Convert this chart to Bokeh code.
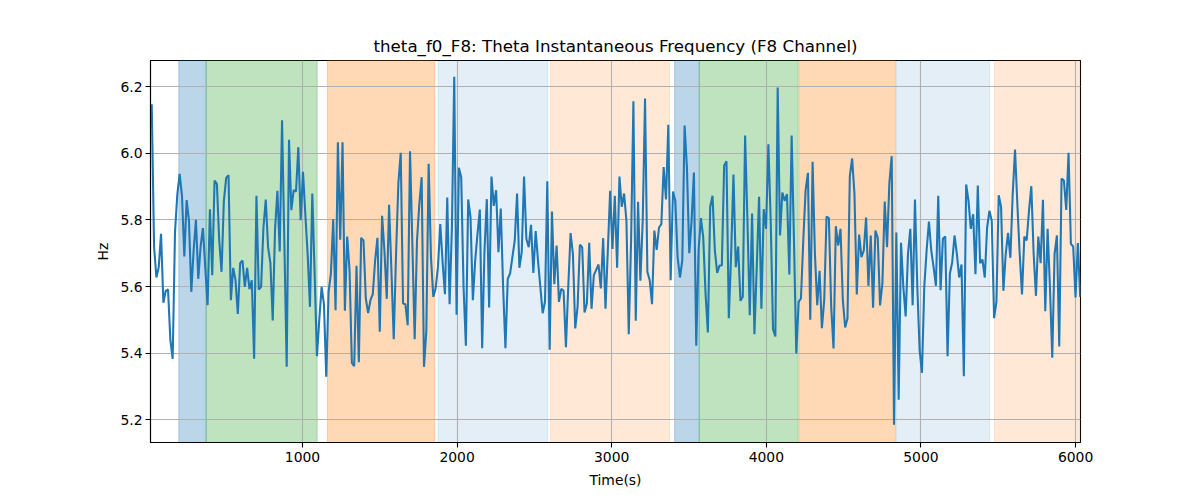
from bokeh.plotting import figure
from bokeh.models import BoxAnnotation, FixedTicker, PrintfTickFormatter, Range1d
from bokeh.embed import file_html
from bokeh.resources import INLINE
import numpy as np

# ---- data ----
T_START = 25.0
T_STEP = 15.05

hz = [
    6.147, 5.720, 5.627, 5.658, 5.758, 5.551, 5.587, 5.591, 5.440, 5.383,
    5.763, 5.877, 5.938, 5.872, 5.690, 5.859, 5.797, 5.584, 5.708, 5.800,
    5.623, 5.720, 5.775, 5.658, 5.544, 5.832, 5.634, 5.918, 5.908, 5.738,
    5.644, 5.857, 5.926, 5.934, 5.559, 5.656, 5.619, 5.518, 5.670, 5.678,
    5.599, 5.656, 5.592, 5.619, 5.383, 5.872, 5.591, 5.599, 5.777, 5.861,
    5.718, 5.670, 5.498, 5.773, 5.887, 5.705, 6.099, 5.728, 5.359, 6.040,
    5.829, 5.889, 5.885, 6.018,
    5.799, 5.944, 5.817, 5.698, 5.539, 5.879, 5.639, 5.391, 5.500, 5.599,
    5.547, 5.329, 5.584, 5.639, 5.802, 5.529, 6.033, 5.740, 6.033, 5.527,
    5.750, 5.649, 5.371, 5.361, 5.662, 5.373, 5.746, 5.738, 5.564, 5.520,
    5.559, 5.577, 5.678, 5.746, 5.464, 5.812, 5.708, 5.563, 5.845, 5.649,
    5.442, 5.698, 5.911, 6.001, 5.549, 5.547, 5.484, 6.006, 5.728, 5.442,
    5.738, 5.847, 5.928, 5.359, 5.465, 5.968, 5.688, 5.569, 5.594, 5.658,
    5.787, 5.673, 5.577, 5.867, 5.547, 5.777,
    6.229, 5.515, 5.956, 5.928, 5.599, 5.422, 5.861, 5.807, 5.559, 5.678,
    5.758, 5.831, 5.415, 5.708, 5.862, 5.537, 5.930, 5.842, 5.889, 5.703,
    5.834, 5.599, 5.415, 5.623, 5.639, 5.688, 5.738, 5.879, 5.656, 5.703,
    5.930, 5.743, 5.718, 5.785, 5.641, 5.766, 5.678, 5.599, 5.520, 5.554,
    5.916, 5.410, 5.825, 5.607, 5.723, 5.554, 5.593, 5.587, 5.418, 5.599,
    5.760, 5.698, 5.474, 5.539, 5.725, 5.718, 5.522, 5.549, 5.731, 5.533,
    5.634, 5.650, 5.666, 5.594, 5.745, 5.533,
    5.708, 5.887, 5.713, 5.872, 5.656, 5.930, 5.839, 5.879, 5.797, 5.457,
    5.738, 6.156, 5.497, 5.854, 5.617, 5.797, 6.164, 5.644, 5.619, 5.547,
    5.768, 5.710, 5.777, 5.787, 5.958, 5.861, 6.085, 5.619, 5.885, 5.857,
    5.688, 5.627, 5.678, 6.083, 5.956, 5.700, 5.797, 5.942, 5.422, 5.708,
    5.805, 5.748, 5.579, 5.462, 5.839, 5.872, 5.708, 5.641, 5.663, 5.663,
    5.963, 5.976, 5.505, 5.698, 5.936, 5.658, 5.720, 5.557, 5.569, 6.053,
    5.797, 5.514, 5.819, 5.457, 5.658, 5.869, 5.533,
    5.832, 5.773, 6.027, 5.797, 5.472, 5.450, 6.197, 5.753, 5.882, 5.857,
    5.877, 5.636, 6.053, 5.738, 5.399, 5.554, 5.564, 5.738, 5.889, 5.941,
    5.500, 5.974, 5.698, 5.544, 5.647, 5.475, 5.559, 5.810, 5.805, 5.539,
    5.414, 5.781, 5.723, 5.773, 5.559, 5.477, 5.505, 5.931, 5.984, 5.877,
    5.576, 5.756, 5.688, 5.708, 5.807, 5.602, 5.753, 5.536, 5.768, 5.746,
    5.543, 5.609, 5.855, 5.718, 5.911, 5.991, 5.185, 5.762, 5.260, 5.731,
    5.599, 5.510, 5.698, 5.773, 5.544, 5.861, 5.599, 5.410,
    5.341, 5.599, 5.708, 5.795, 5.708, 5.658, 5.602, 5.872, 5.589, 5.743,
    5.750, 5.391, 5.639, 5.673, 5.753, 5.698, 5.627, 5.666, 5.331, 5.906,
    5.857, 5.773, 5.817, 5.637, 5.903, 5.670, 5.681, 5.627, 5.777, 5.827,
    5.797, 5.505, 5.554, 5.874, 5.839, 5.587, 5.698, 5.761, 5.686, 5.877,
    6.011, 5.847, 5.698, 5.576, 5.750, 5.738, 5.827, 5.901, 5.698, 5.572,
    5.750, 5.670, 5.860, 5.526, 5.773, 5.599, 5.386, 5.698, 5.753, 5.420,
    5.924, 5.918, 5.830, 6.001, 5.728, 5.720, 5.567, 5.730, 5.569,
]
time_s = T_START + T_STEP * np.arange(len(hz))

span_starts = [200, 377, 1161, 1877, 2604, 3407, 3566, 4213, 4842, 5476]
span_ends = [377, 1095, 1856, 2587, 3374, 3566, 4206, 4836, 5444, 6040]
span_colors = ["#1f77b4", "#2ca02c", "#ff7f0e", "#1f77b4", "#ff7f0e",
               "#1f77b4", "#2ca02c", "#ff7f0e", "#1f77b4", "#ff7f0e"]
span_alphas = [0.3, 0.3, 0.3, 0.12, 0.17, 0.3, 0.3, 0.3, 0.12, 0.17]

x_ticks = [1000, 2000, 3000, 4000, 5000, 6000]
y_ticks = [5.2, 5.4, 5.6, 5.8, 6.0, 6.2]

FONT = "DejaVu Sans"

p = figure(width=1190, height=490, output_backend="svg", toolbar_location=None,
           x_range=Range1d(17, 6032), y_range=Range1d(5.132, 6.278),
           min_border_left=150, min_border_right=110,
           min_border_top=60, min_border_bottom=45)

p.title.text = "theta_f0_F8: Theta Instantaneous Frequency (F8 Channel)"
p.title.align = "center"
p.title.text_font = FONT
p.title.text_font_size = "16.7px"
p.title.text_font_style = "normal"
p.title.text_color = "black"

for s, e, c, a in zip(span_starts, span_ends, span_colors, span_alphas):
    p.add_layout(BoxAnnotation(left=s, right=e, fill_color=c, fill_alpha=a,
                               line_color=c, line_alpha=a, line_width=1,
                               level="image"))

p.line(time_s, hz, line_color="#1f77b4", line_width=2.08)

p.xaxis.ticker = FixedTicker(ticks=x_ticks)
p.yaxis.ticker = FixedTicker(ticks=y_ticks)
p.yaxis.formatter = PrintfTickFormatter(format="%.1f")
p.xaxis.axis_label = "Time(s)"
p.yaxis.axis_label = "Hz"

for ax in (p.xaxis, p.yaxis):
    ax.axis_label_text_font = FONT
    ax.axis_label_text_font_size = "13.9px"
    ax.axis_label_text_font_style = "normal"
    ax.axis_label_text_color = "black"
    ax.major_label_text_font = FONT
    ax.major_label_text_font_size = "13.9px"
    ax.major_label_text_color = "black"
    ax.axis_line_color = "black"
    ax.axis_line_width = 1.1
    ax.major_tick_line_color = "black"
    ax.major_tick_line_width = 1.1
    ax.major_tick_out = 5
    ax.major_tick_in = 0
    ax.minor_tick_line_color = None
    ax.major_label_standoff = 3
    ax.axis_label_standoff = 6

p.xaxis.major_label_standoff = 4
p.xaxis.axis_label_standoff = 7

p.grid.grid_line_color = "#b0b0b0"
p.grid.grid_line_width = 1.1
p.outline_line_color = "black"
p.outline_line_width = 1.1
p.background_fill_color = "white"
p.border_fill_color = "white"

open("out.html", "w").write(file_html(p, INLINE))
